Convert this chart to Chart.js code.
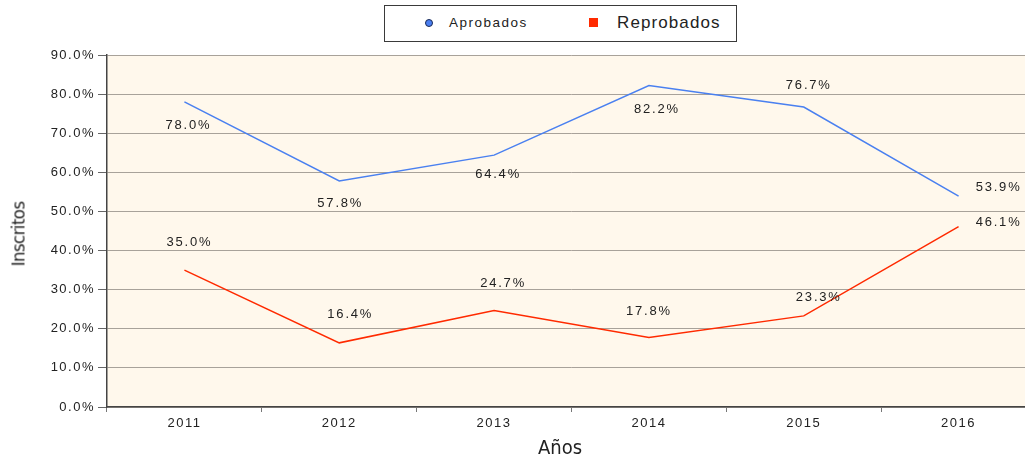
<!DOCTYPE html>
<html>
<head>
<meta charset="utf-8">
<script src="https://cdn.jsdelivr.net/npm/chart.js@4.4.0/dist/chart.umd.min.js"></script>
<style>
  html, body { margin: 0; padding: 0; background: #fff; overflow: hidden; }
  #wrap { position: relative; width: 1025px; height: 461px; overflow: hidden; }
  #chart { position: absolute; left: 0; top: 0; }
  .legend {
    position: absolute; left: 384px; top: 5px; width: 351px; height: 35px;
    border: 1.5px solid #3a3a3a; background: #fff;
    font-family: "Liberation Sans", Arial, sans-serif; color: #222;
  }
  .legend .dot {
    position: absolute; left: 40px; top: 13px; width: 6px; height: 6px;
    border-radius: 50%; background: #4a7ff2; border: 1px solid #1a2a55;
  }
  .legend .sq {
    position: absolute; left: 204px; top: 12px; width: 9px; height: 9px; background: #ff2a00;
  }
  .legend .t1 { position: absolute; left: 64px; top: 9px; font-size: 13.5px; letter-spacing: 1.5px; }
  .legend .t2 { position: absolute; left: 232px; top: 7px; font-size: 17px; letter-spacing: 1.1px; }
  .ytitle {
    position: absolute; left: 18px; top: 234px; transform: translate(-50%, -50%) rotate(-90deg);
    font-family: "DejaVu Sans Condensed", sans-serif; font-size: 18.5px;
    color: #222; letter-spacing: -0.6px; white-space: nowrap;
  }
  .xtitle {
    position: absolute; left: 560px; top: 447px; transform: translate(-50%, -50%);
    font-family: "DejaVu Sans Condensed", sans-serif; font-size: 20px; color: #222;
  }
</style>
</head>
<body>
<div id="wrap">
  <canvas id="chart" width="1036" height="461"></canvas>
  <div class="legend">
    <span class="dot"></span><span class="t1">Aprobados</span>
    <span class="sq"></span><span class="t2">Reprobados</span>
  </div>
  <div class="ytitle">Inscritos</div>
  <div class="xtitle">Años</div>
</div>
<script>
// Datos
const years = ['2011', '2012', '2013', '2014', '2015', '2016'];
const aprobados = [78.0, 57.8, 64.4, 82.2, 76.7, 53.9];
const reprobados = [35.0, 16.4, 24.7, 17.8, 23.3, 46.1];
const yTicks = [0, 10, 20, 30, 40, 50, 60, 70, 80, 90];

// label offsets from each point (px)
const labelOffsets = [
    [[3, 23], [0, 22], [3, 19], [7, 24], [4, -22], [39, -9]],
    [[4, -28], [10, -28], [8, -27], [-1, -26], [14, -18], [39, -4]]
];

const plotBackground = {
    id: 'plotBackground',
    beforeDraw(chart) {
        const { ctx, chartArea: a } = chart;
        ctx.save();
        ctx.fillStyle = '#fff8ec';
        ctx.fillRect(a.left, a.top, a.right - a.left, a.bottom - a.top);
        ctx.restore();
        // wider text like the original
        ctx.letterSpacing = '1.5px';
    }
};

const pointLabels = {
    id: 'pointLabels',
    afterDatasetsDraw(chart) {
        const ctx = chart.ctx;
        ctx.save();
        ctx.font = '13px "Liberation Sans", Arial, sans-serif';
        ctx.letterSpacing = '1.8px';
        ctx.fillStyle = '#222';
        ctx.textAlign = 'center';
        ctx.textBaseline = 'middle';
        chart.data.datasets.forEach((ds, i) => {
            chart.getDatasetMeta(i).data.forEach((pt, j) => {
                const off = labelOffsets[i][j];
                ctx.fillText(ds.data[j].toFixed(1) + '%', pt.x + off[0] + 1, pt.y + off[1]);
            });
        });
        ctx.restore();
    }
};

const ctx = document.getElementById('chart').getContext('2d');
const chart = new Chart(ctx, {
    type: 'line',
    data: {
        labels: years,
        datasets: [{
            label: 'Aprobados',
            data: aprobados,
            borderColor: '#4a80f0',
            borderWidth: 1.5,
            pointRadius: 0,
            tension: 0
        }, {
            label: 'Reprobados',
            data: reprobados,
            borderColor: '#ff2a00',
            borderWidth: 1.5,
            pointRadius: 0,
            tension: 0
        }]
    },
    options: {
        responsive: false,
        animation: false,
        layout: {
            padding: { top: 55, left: 0, right: 0, bottom: 0 }
        },
        plugins: {
            legend: { display: false },
            tooltip: { enabled: false }
        },
        scales: {
            x: {
                offset: true,
                grid: {
                    offset: true,
                    drawOnChartArea: false,
                    drawTicks: true,
                    tickLength: 5,
                    color: '#777'
                },
                border: { color: '#444', width: 1.5 },
                ticks: {
                    color: '#222',
                    padding: 4,
                    font: { family: '"Liberation Sans", Arial, sans-serif', size: 13 }
                },
                afterFit(scale) { scale.height = 54; }
            },
            y: {
                min: 0,
                max: 90,
                afterBuildTicks(scale) {
                    scale.ticks = yTicks.map(v => ({ value: v }));
                },
                grid: {
                    color: '#a8a29a',
                    tickLength: 9,
                    tickColor: '#666'
                },
                border: { color: '#444', width: 1.5 },
                ticks: {
                    color: '#222',
                    padding: 3,
                    font: { family: '"Liberation Sans", Arial, sans-serif', size: 13 },
                    callback: v => v.toFixed(1) + '%'
                },
                afterFit(scale) { scale.width = 107; }
            }
        }
    },
    plugins: [plotBackground, pointLabels]
});
</script>
</body>
</html>
